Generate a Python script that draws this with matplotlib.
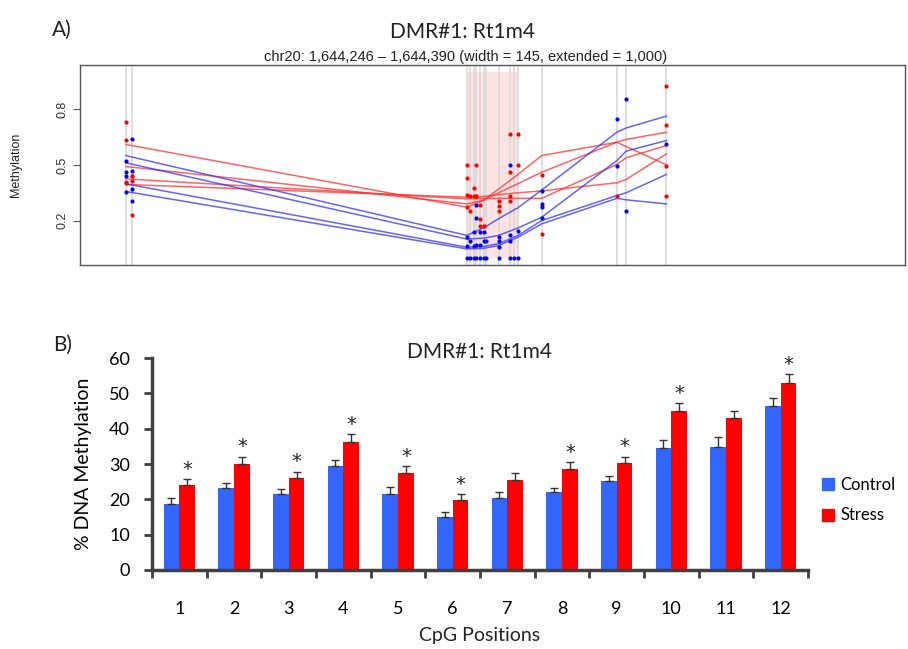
import matplotlib
matplotlib.use("Agg")
import matplotlib.pyplot as plt
from matplotlib.patches import Patch
import numpy as np

# ---------------- Panel A data ----------------
dmr_start, dmr_end, extend = 1644246, 1644390, 1000
cpg_pos = [1643289, 1643306, 1644246, 1644254, 1644265, 1644273, 1644284, 1644293,
           1644301, 1644335, 1644368, 1644377, 1644390, 1644456, 1644667, 1644693, 1644806]

# raw methylation per CpG (index into cpg_pos)
red_dot_idx = [0, 0, 0, 0, 1, 1, 1, 1, 2, 2, 2, 2, 3, 3, 4, 4, 5, 5, 5, 6, 6, 6, 7, 7,
               9, 9, 9, 10, 10, 10, 10, 12, 12, 13, 13, 14, 16, 16, 16, 16]
red_dot_val = [0.733, 0.636, 0.402, 0.41, 0.443, 0.412, 0.231, 0.44, 0.50, 0.43, 0.272, 0.34,
               0.335, 0.25, 0.375, 0.335, 0.50, 0.335, 0.335, 0.285, 0.209, 0.17, 0.17, 0.17,
               0.308, 0.28, 0.25, 0.668, 0.46, 0.335, 0.308, 0.668, 0.50, 0.447, 0.128, 0.33,
               0.924, 0.714, 0.497, 0.33]
blue_dot_idx = [0, 0, 0, 0, 1, 1, 1, 1, 2, 2, 2, 3, 3, 4, 4, 4, 5, 5, 5, 5, 6, 6, 6,
                7, 7, 7, 8, 8, 9, 9, 9, 9, 10, 10, 10, 10, 11, 12, 12, 13, 13, 13, 13,
                14, 14, 15, 15, 16]
blue_dot_val = [0.524, 0.461, 0.443, 0.353, 0.643, 0.465, 0.371, 0.304, 0.0, 0.06, 0.11,
                0.092, 0.0, 0.14, 0.065, 0.0, 0.285, 0.215, 0.07, 0.0, 0.14, 0.07, 0.0,
                0.14, 0.092, 0.0, 0.09, 0.0, 0.11, 0.092, 0.056, 0.0, 0.50, 0.123, 0.092, 0.0,
                0.0, 0.146, 0.0, 0.362, 0.29, 0.275, 0.215, 0.75, 0.497, 0.858, 0.249, 0.615]

# smoothed methylation per sample at selected CpGs
smooth_pos = [1643289, 1644246, 1644293, 1644335, 1644390, 1644456, 1644667, 1644693, 1644806]
stress_smooth = [
    [0.611, 0.272, 0.31, 0.37, 0.45, 0.551, 0.623, 0.60, 0.501],
    [0.492, 0.29, 0.31, 0.35, 0.40, 0.461, 0.623, 0.638, 0.677],
    [0.425, 0.317, 0.32, 0.32, 0.32, 0.32, 0.503, 0.539, 0.605],
    [0.395, 0.326, 0.33, 0.34, 0.35, 0.36, 0.404, 0.422, 0.56],
]
control_smooth = [
    [0.551, 0.12, 0.16, 0.21, 0.27, 0.365, 0.677, 0.70, 0.764],
    [0.512, 0.10, 0.105, 0.12, 0.16, 0.218, 0.524, 0.575, 0.632],
    [0.398, 0.056, 0.06, 0.075, 0.12, 0.20, 0.335, 0.35, 0.449],
    [0.357, 0.047, 0.05, 0.065, 0.11, 0.182, 0.32, 0.312, 0.29],
]

# ---------------- Panel B data ----------------
positions = [str(i) for i in range(1, 13)]
control = [18.7, 23.1, 21.6, 29.5, 21.5, 14.9, 20.5, 22.1, 25.1, 34.6, 34.9, 46.3]
control_err = [1.6, 1.6, 1.4, 1.7, 2.1, 1.6, 1.7, 1.2, 1.5, 2.1, 2.8, 2.3]
stress = [24.1, 29.9, 26.1, 36.1, 27.5, 19.9, 25.6, 28.7, 30.3, 45.0, 43.0, 52.8]
stress_err = [1.6, 2.2, 1.7, 2.3, 1.9, 1.6, 1.8, 1.9, 1.8, 2.3, 2.1, 2.6]
significant = [True, True, True, True, True, True, False, True, True, True, False, True]

W, H = 908, 649
fig = plt.figure(figsize=(W / 100, H / 100), dpi=100)

def ax_rect(l, t, r, b):
    return [l / W, 1 - b / H, (r - l) / W, (b - t) / H]

# ---------------- Panel A ----------------
axA = fig.add_axes(ax_rect(80, 65, 905, 265))
x0, x1 = dmr_start - extend, dmr_end + extend
span = x1 - x0
axA.set_xlim(x0 - 0.04 * span, x1 + 0.04 * span)
axA.set_ylim(-0.04, 1.04)
axA.axvspan(dmr_start, dmr_end, ymin=0.04 / 1.08, ymax=1.04 / 1.08,
            color="#ffe3e3", lw=0, zorder=0)
for p in cpg_pos:
    axA.axvline(p, color="#d9d9d9", lw=1.2, zorder=1)
for ys in stress_smooth:
    axA.plot(smooth_pos, ys, color="#ff3030", lw=1.1, alpha=0.75, zorder=2)
for ys in control_smooth:
    axA.plot(smooth_pos, ys, color="#3030ff", lw=1.1, alpha=0.75, zorder=2)
axA.scatter([cpg_pos[i] for i in red_dot_idx], red_dot_val, s=9, color="#ff0000",
            lw=0, zorder=3)
axA.scatter([cpg_pos[i] for i in blue_dot_idx], blue_dot_val, s=9, color="#0000ff",
            lw=0, zorder=3)
axA.set_xticks([])
axA.set_yticks([0.2, 0.5, 0.8])
axA.set_yticklabels(["0.2", "0.5", "0.8"], rotation=90, va="center",
                    fontsize=9, family="Liberation Sans", color="#333333")
axA.tick_params(axis="y", length=5, width=0.8, color="#555555", pad=3)
for s in axA.spines.values():
    s.set_color("#555555")
    s.set_linewidth(1.0)
fig.text(16 / W, 1 - 165 / H, "Methylation", rotation=90, ha="center", va="center",
         fontsize=9, family="Liberation Sans", color="#222222")
fig.text(466 / W, 1 - 57 / H,
         "chr20: 1,644,246 \u2013 1,644,390 (width = 145, extended = 1,000)",
         ha="center", va="center", fontsize=10.5, family="Liberation Sans", color="#222222")
fig.text(463 / W, 1 - 32 / H, "DMR#1: Rt1m4", ha="center", va="center",
         fontsize=15, family="Lato", color="#222222")
fig.text(62 / W, 1 - 30 / H, "A)", ha="center", va="center", fontsize=15,
         family="Lato", color="#222222")

# ---------------- Panel B ----------------
axB = fig.add_axes(ax_rect(152, 358, 808, 570))
idx = np.arange(1, 13)
bw = 0.287
axB.bar(idx - bw / 2, control, bw, color="#3366ff", zorder=2, label="Control")
axB.bar(idx + bw / 2, stress, bw, color="#ff0000", zorder=2, label="Stress")
axB.errorbar(idx - bw / 2, control, yerr=[[0] * 12, control_err], fmt="none",
             ecolor="#333333", elinewidth=1, capsize=3, capthick=1, zorder=3)
axB.errorbar(idx + bw / 2, stress, yerr=[[0] * 12, stress_err], fmt="none",
             ecolor="#333333", elinewidth=1, capsize=3, capthick=1, zorder=3)
for i, sig in enumerate(significant):
    if sig:
        axB.text(idx[i] + bw / 2, stress[i] + stress_err[i] + 0.1, "*", ha="center",
                 va="bottom", fontsize=14, family="DejaVu Sans", color="#222222")
axB.set_xlim(0.5, 12.5)
axB.set_ylim(0, 60)
axB.set_yticks(range(0, 61, 10))
axB.set_yticklabels([str(v) for v in range(0, 61, 10)], fontsize=13, family="Lato")
axB.set_xticks(np.arange(0.5, 12.6, 1))
axB.set_xticklabels([])
axB.set_xticks(idx, minor=True)
axB.set_xticklabels(positions, minor=True, fontsize=13, family="Lato")
axB.tick_params(axis="x", which="major", length=6, width=2, color="#404040")
axB.tick_params(axis="x", which="minor", length=0, pad=22)
axB.tick_params(axis="y", length=6, width=2, color="#404040", pad=10)
for side in ["top", "right"]:
    axB.spines[side].set_visible(False)
for side in ["left", "bottom"]:
    axB.spines[side].set_color("#404040")
    axB.spines[side].set_linewidth(2.5)
axB.set_ylabel("% DNA Methylation", fontsize=14, family="Lato", labelpad=12)
fig.text(480 / W, 1 - 636 / H, "CpG Positions", ha="center", va="center",
         fontsize=14, family="Lato", color="#222222")
fig.text(479 / W, 1 - 352 / H, "DMR#1: Rt1m4", ha="center", va="center",
         fontsize=15, family="Lato", color="#222222")
fig.text(63 / W, 1 - 345 / H, "B)", ha="center", va="center", fontsize=15,
         family="Lato", color="#222222")
handles = [Patch(color="#3366ff", label="Control"), Patch(color="#ff0000", label="Stress")]
fig.legend(handles=handles, loc="center left", bbox_to_anchor=(822 / W, 1 - 500 / H),
           frameon=False, prop={"family": "Lato", "size": 12}, handlelength=0.7,
           handleheight=0.7, handletextpad=0.4, labelspacing=0.9, borderaxespad=0,
           borderpad=0)

fig.savefig("out.png", dpi=100)
